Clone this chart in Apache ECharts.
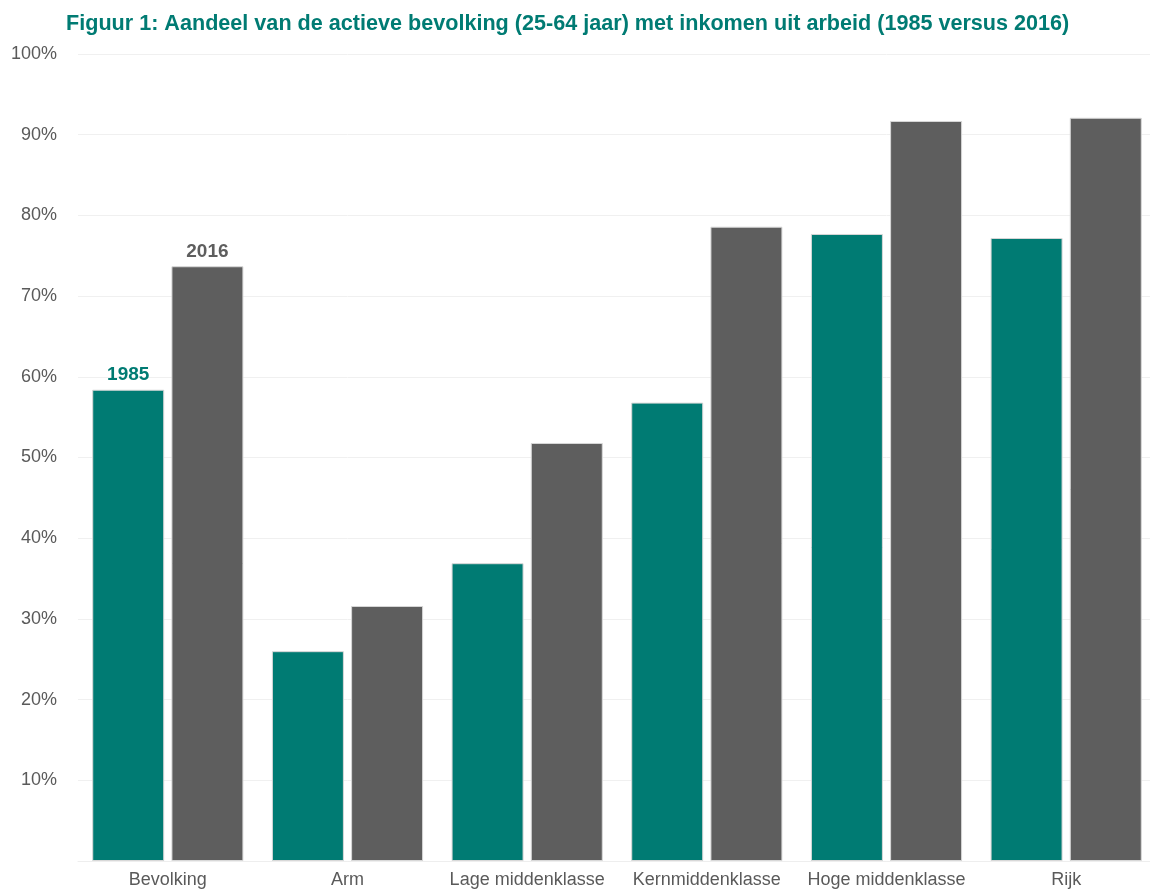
<!DOCTYPE html>
<html><head><meta charset="utf-8">
<script src="https://cdn.jsdelivr.net/npm/echarts@6/dist/echarts.min.js"></script>
<style>html,body{margin:0;padding:0;background:#fff;overflow:hidden}#c{width:1160px;height:890px}</style>
</head><body><div id="c"></div>
<script>
const categories = ['Bevolking','Arm','Lage middenklasse','Kernmiddenklasse','Hoge middenklasse','Rijk'];
const values1985 = [58.4, 26.0, 36.9, 56.8, 77.7, 77.2];
const values2016 = [73.7, 31.6, 51.8, 78.6, 91.7, 92.1];
const yTicks = [0,10,20,30,40,50,60,70,80,90,100];

const teal = '#007b73', grey = '#5e5e5e';
const chart = echarts.init(document.getElementById('c'));
function labelFirst(name, color){
  return {show:true, position:'top', distance:5, fontFamily:'Liberation Sans', fontWeight:'bold', fontSize:19, color:color,
    formatter: p => p.dataIndex === 0 ? name : ''};
}
chart.setOption({
  animation:false,
  title:{text:'Figuur 1: Aandeel van de actieve bevolking (25-64 jaar) met inkomen uit arbeid (1985 versus 2016)',
    left:61, top:8, textStyle:{fontFamily:'Liberation Sans', fontWeight:'bold', fontSize:21.6, color:teal}},
  grid:{left:78, right:4, top:54, bottom:29, containLabel:false},
  xAxis:{type:'category', data:categories, axisTick:{show:false},
    axisLine:{show:true, lineStyle:{color:'#eeeeee'}},
    axisLabel:{interval:0, fontFamily:'Liberation Sans', fontSize:18, color:'#5a5a5a', margin:10}},
  yAxis:{type:'value', min:yTicks[0], max:yTicks[yTicks.length-1], interval:10,
    axisLine:{show:false}, axisTick:{show:false},
    splitLine:{lineStyle:{color:'#f0f0f0'}},
    axisLabel:{fontFamily:'Liberation Sans', fontSize:18, color:'#5a5a5a', margin:21,
      formatter: v => v === 0 ? '' : v + '%'}},
  series:[
    {name:'1985', type:'bar', data:values1985, barWidth:72, barGap:'10%',
      itemStyle:{color:teal, borderColor:'#d8d8d8', borderWidth:1}, label:labelFirst('1985', teal)},
    {name:'2016', type:'bar', data:values2016, barWidth:72,
      itemStyle:{color:grey, borderColor:'#d8d8d8', borderWidth:1}, label:labelFirst('2016', grey)}
  ]
});
</script></body></html>
